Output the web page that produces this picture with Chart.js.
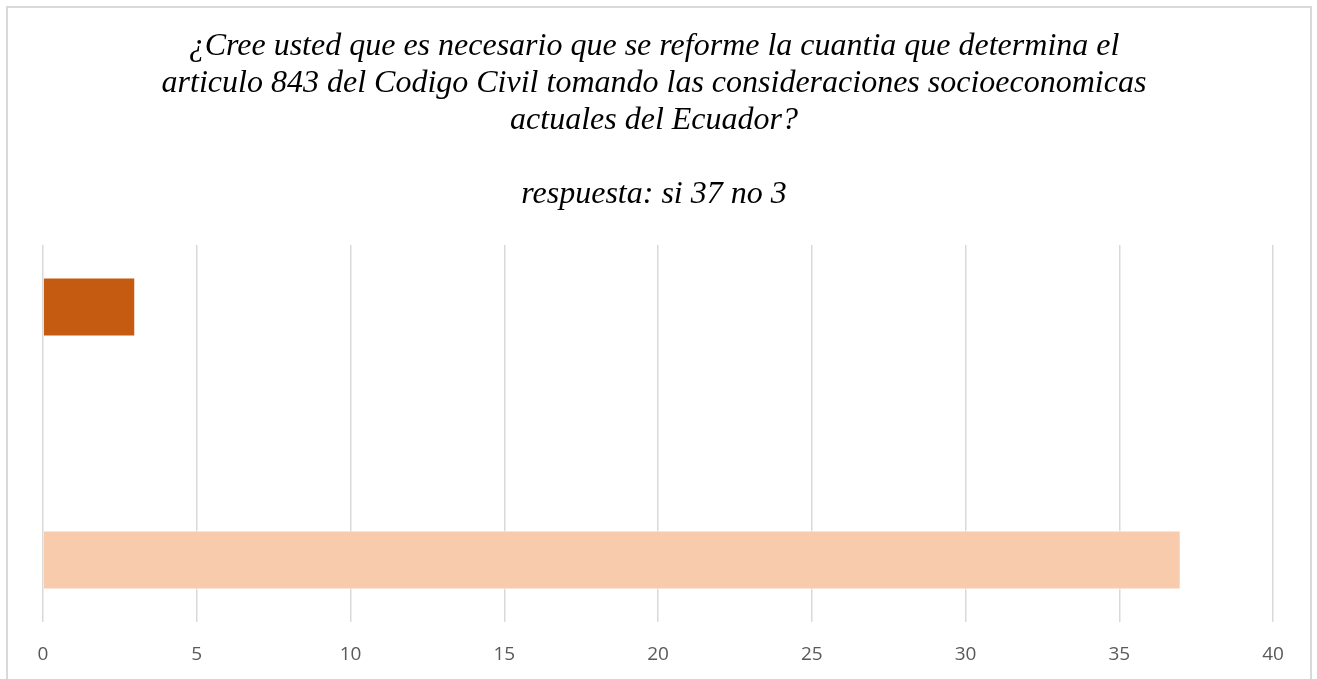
<!DOCTYPE html>
<html>
<head>
<meta charset="utf-8">
<script src="https://cdn.jsdelivr.net/npm/chart.js@4"></script>
<style>
  html, body { margin: 0; padding: 0; background: #fff; overflow: hidden; }
  #frame { position: absolute; left: 6px; top: 6px; width: 1306px; height: 700px; border: 2px solid #d9d9d9; box-sizing: border-box; }
  #wrap { position: absolute; left: 0; top: 0; width: 1317px; height: 688px; }
</style>
</head>
<body>
<div id="frame"></div>
<div id="wrap"><canvas id="chart"></canvas></div>
<script>
// respuestas de la encuesta
const seriesNames = ['no', 'si'];
const seriesValues = [3, 37];
const seriesColors = ['#C55A11', '#F8CBAD'];
const titleLines = [
    '¿Cree usted que es necesario que se reforme la cuantia que determina el',
    'articulo 843 del Codigo Civil tomando las consideraciones socioeconomicas',
    'actuales del Ecuador?',
    '',
    'respuesta: si 37 no 3'
];
const xTicks = [0, 5, 10, 15, 20, 25, 30, 35, 40];

const ctx = document.getElementById('chart').getContext('2d');

new Chart(ctx, {
    type: 'bar',
    data: {
        labels: [''],
        datasets: seriesNames.map((name, i) => ({
            label: name,
            data: [seriesValues[i]],
            backgroundColor: seriesColors[i],
            borderColor: '#ffffff',
            borderWidth: 1,
            categoryPercentage: 1.342,
            barPercentage: 0.233
        }))
    },
    options: {
        indexAxis: 'y',
        responsive: true,
        maintainAspectRatio: false,
        animation: false,
        layout: { padding: { left: 35, right: 44, top: 0, bottom: 0 } },
        scales: {
            x: {
                min: xTicks[0],
                max: xTicks[xTicks.length - 1],
                ticks: {
                    stepSize: 5,
                    padding: 21.6,
                    color: '#595959',
                    font: { family: 'Open Sans', size: 19 }
                },
                grid: { color: '#d9d9d9', lineWidth: 1.5, drawTicks: false },
                border: { display: false }
            },
            y: {
                grid: { display: false },
                ticks: { display: false },
                border: { display: false }
            }
        },
        plugins: {
            legend: { display: false },
            tooltip: { enabled: false },
            title: {
                display: true,
                text: titleLines,
                color: '#000000',
                font: { family: 'Liberation Serif', size: 32, style: 'italic', weight: 'normal', lineHeight: 1.156 },
                padding: { top: 28, bottom: 32 }
            }
        }
    }
});
</script>
</body>
</html>
